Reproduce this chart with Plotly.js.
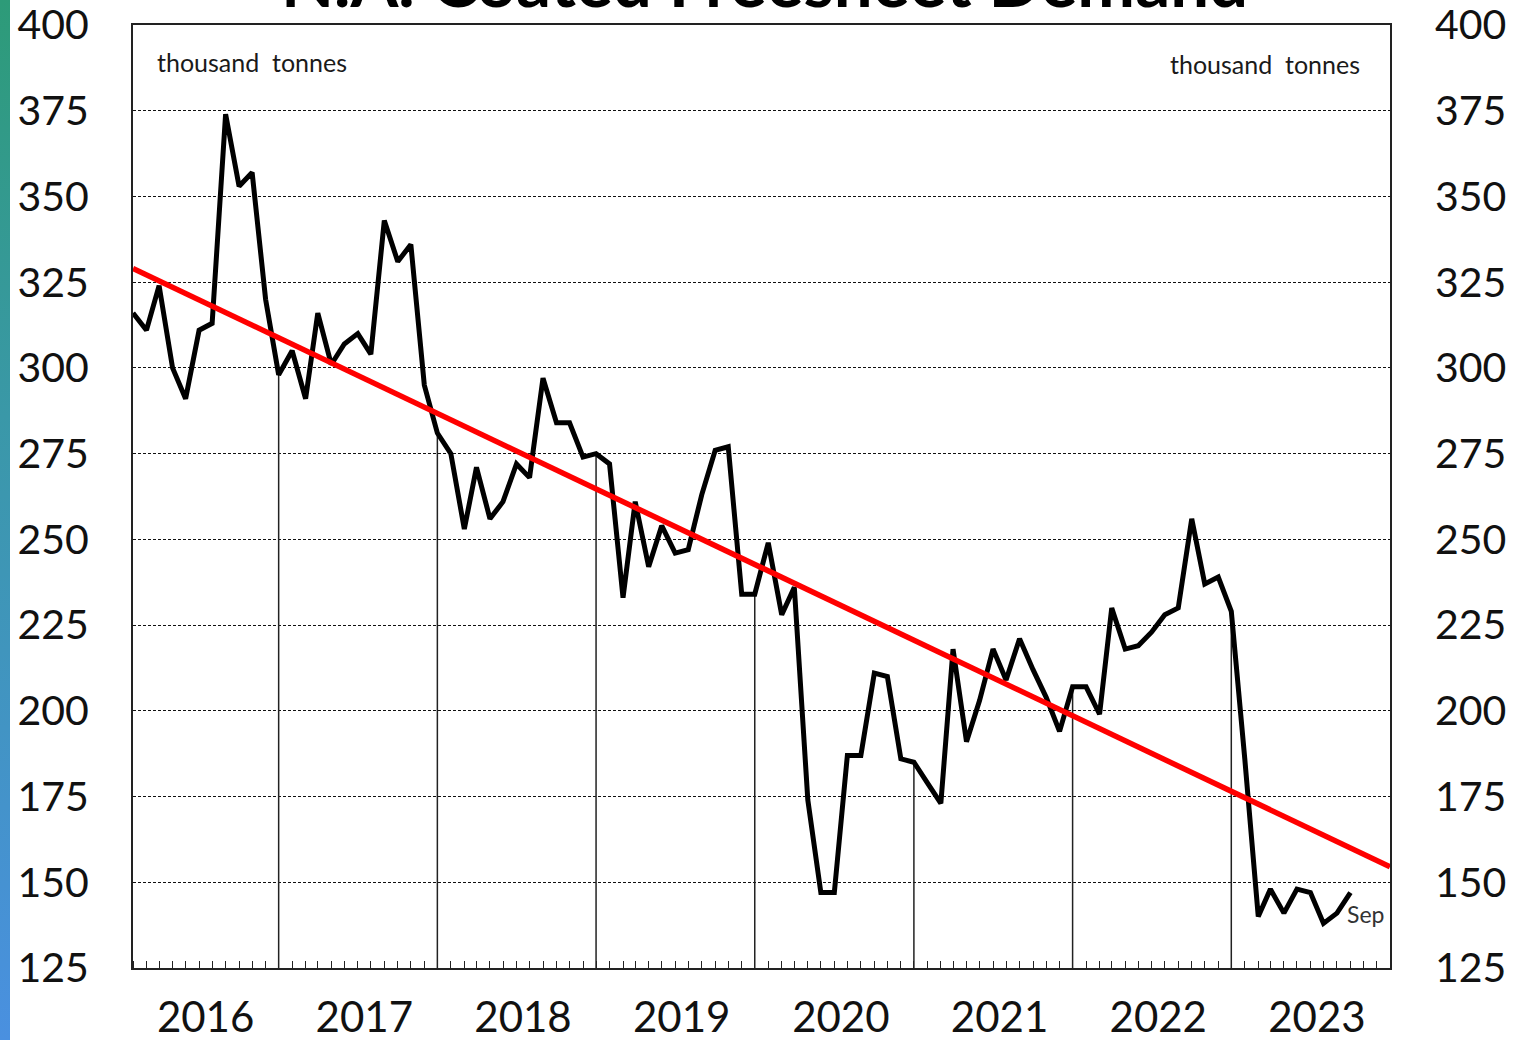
<!DOCTYPE html>
<html>
<head>
<meta charset="utf-8">
<script src="https://cdn.plot.ly/plotly-3.0.1.min.js"></script>
<style>
  html, body { margin: 0; padding: 0; background: #fff; }
  #chart { width: 1517px; height: 1040px; position: relative; }
  #edge { position: absolute; left: 0; top: 0; width: 10px; height: 1040px;
          background: linear-gradient(to bottom, #2d9b78 0%, #3a98a8 40%, #4a90e0 100%); z-index: 5; }
</style>
</head>
<body>
<div id="edge"></div>
<div id="chart"></div>
<script>
// ---- data ----
const months = [
  '2016-01','2016-02','2016-03','2016-04','2016-05','2016-06','2016-07','2016-08','2016-09','2016-10','2016-11','2016-12',
  '2017-01','2017-02','2017-03','2017-04','2017-05','2017-06','2017-07','2017-08','2017-09','2017-10','2017-11','2017-12',
  '2018-01','2018-02','2018-03','2018-04','2018-05','2018-06','2018-07','2018-08','2018-09','2018-10','2018-11','2018-12',
  '2019-01','2019-02','2019-03','2019-04','2019-05','2019-06','2019-07','2019-08','2019-09','2019-10','2019-11','2019-12',
  '2020-01','2020-02','2020-03','2020-04','2020-05','2020-06','2020-07','2020-08','2020-09','2020-10','2020-11','2020-12',
  '2021-01','2021-02','2021-03','2021-04','2021-05','2021-06','2021-07','2021-08','2021-09','2021-10','2021-11','2021-12',
  '2022-01','2022-02','2022-03','2022-04','2022-05','2022-06','2022-07','2022-08','2022-09','2022-10','2022-11','2022-12',
  '2023-01','2023-02','2023-03','2023-04','2023-05','2023-06','2023-07','2023-08','2023-09'
];
const demand = [
  316, 311, 324, 300, 291, 311, 313, 374, 353, 357, 320, 298,
  305, 291, 316, 301, 307, 310, 304, 343, 331, 336, 295, 281,
  275, 253, 271, 256, 261, 272, 268, 297, 284, 284, 274, 275,
  272, 233, 261, 242, 254, 246, 247, 263, 276, 277, 234, 234,
  249, 228, 236, 174, 147, 147, 187, 187, 211, 210, 186, 185,
  179, 173, 218, 191, 203, 218, 209, 221, 212, 204, 194, 207,
  207, 199, 230, 218, 219, 223, 228, 230, 256, 237, 239, 229,
  186, 140, 148, 141, 148, 147, 138, 141, 147
];
const trendX = ['2016-01', '2023-12'];
const trendY = [329, 154.5];
const years = ['2016','2017','2018','2019','2020','2021','2022','2023'];
const yearLabelPos = ['2016-06-16','2017-06-16','2018-06-16','2019-06-16','2020-06-16','2021-06-16','2022-06-16','2023-06-16'];
const yTicks = [125, 150, 175, 200, 225, 250, 275, 300, 325, 350, 375, 400];
const unitLabel = 'thousand  tonnes';
const lastLabel = 'Sep';
const titleText = 'N.A. Coated Freesheet Demand';

// ---- build ----
const yMin = 125, yMax = 400;
const dropX = [], dropY = [];
months.forEach((m, i) => {
  if (m.endsWith('-12')) { dropX.push(m, m, null); dropY.push(demand[i], yMin, null); }
});

const FONT = 'Lato, "Open Sans", "Noto Sans", sans-serif';

const traces = [
  { x: dropX, y: dropY, type: 'scatter', mode: 'lines', line: { color: '#222', width: 1.5 },
    hoverinfo: 'skip', showlegend: false },
  { x: trendX, y: trendY, type: 'scatter', mode: 'lines', line: { color: '#ff0000', width: 5.5 },
    showlegend: false, yaxis: 'y2' },
  { x: months, y: demand, type: 'scatter', mode: 'lines', line: { color: '#000', width: 5 },
    showlegend: false }
];

const yCommon = {
  range: [yMin, yMax], tickmode: 'array', tickvals: yTicks,
  tickfont: { family: FONT, size: 41, color: '#111' },
  ticks: '', zeroline: false, fixedrange: true, ticklabeloverflow: 'allow'
};

const layout = {
  width: 1517, height: 1040,
  margin: { l: 133, r: 127, t: 25, b: 72 },
  paper_bgcolor: '#fff', plot_bgcolor: '#fff',
  font: { family: FONT, color: '#111' },
  title: { text: titleText, font: { family: FONT, size: 69, color: '#000', weight: 'bold' },
           x: 0.504, xanchor: 'center', y: 0.9934, yref: 'container', yanchor: 'bottom' },
  xaxis: {
    type: 'date', range: ['2016-01-01', '2023-12-01'],
    tickmode: 'array', tickvals: yearLabelPos, ticktext: years,
    ticks: '', showgrid: false, zeroline: false,
    tickfont: { family: FONT, size: 42, color: '#111' },
    ticklabelstandoff: 12, ticklabeloverflow: 'allow',
    showline: true, linecolor: '#222', linewidth: 2, mirror: true,
    minor: { tickmode: 'linear', tick0: '2016-01-01', dtick: 'M1', ticks: 'inside', ticklen: 7,
             tickwidth: 1, tickcolor: '#222', showgrid: false }
  },
  yaxis: Object.assign({}, yCommon, {
    side: 'left', showgrid: true, gridcolor: '#111', gridwidth: 1, griddash: '3px,2px',
    showline: true, linecolor: '#222', linewidth: 2, mirror: true, ticklabelstandoff: 34
  }),
  yaxis2: Object.assign({}, yCommon, {
    overlaying: 'y', side: 'right', showgrid: false, showline: false, ticklabelstandoff: 44
  }),
  annotations: [
    { xref: 'paper', yref: 'paper', x: 0.0175, y: 0.961, xanchor: 'left', yanchor: 'middle',
      text: unitLabel, showarrow: false, font: { family: FONT, size: 25, color: '#1a1a1a' } },
    { xref: 'paper', yref: 'paper', x: 0.9777, y: 0.959, xanchor: 'right', yanchor: 'middle',
      text: unitLabel, showarrow: false, font: { family: FONT, size: 25, color: '#1a1a1a' } },
    { x: months[months.length - 1], y: demand[demand.length - 1], xanchor: 'left', yanchor: 'top',
      xshift: -5, yshift: -5, text: lastLabel, showarrow: false,
      font: { family: FONT, size: 23, color: '#333' } }
  ],
  showlegend: false
};

Plotly.newPlot('chart', traces, layout, { displayModeBar: false, staticPlot: true });
</script>
</body>
</html>
